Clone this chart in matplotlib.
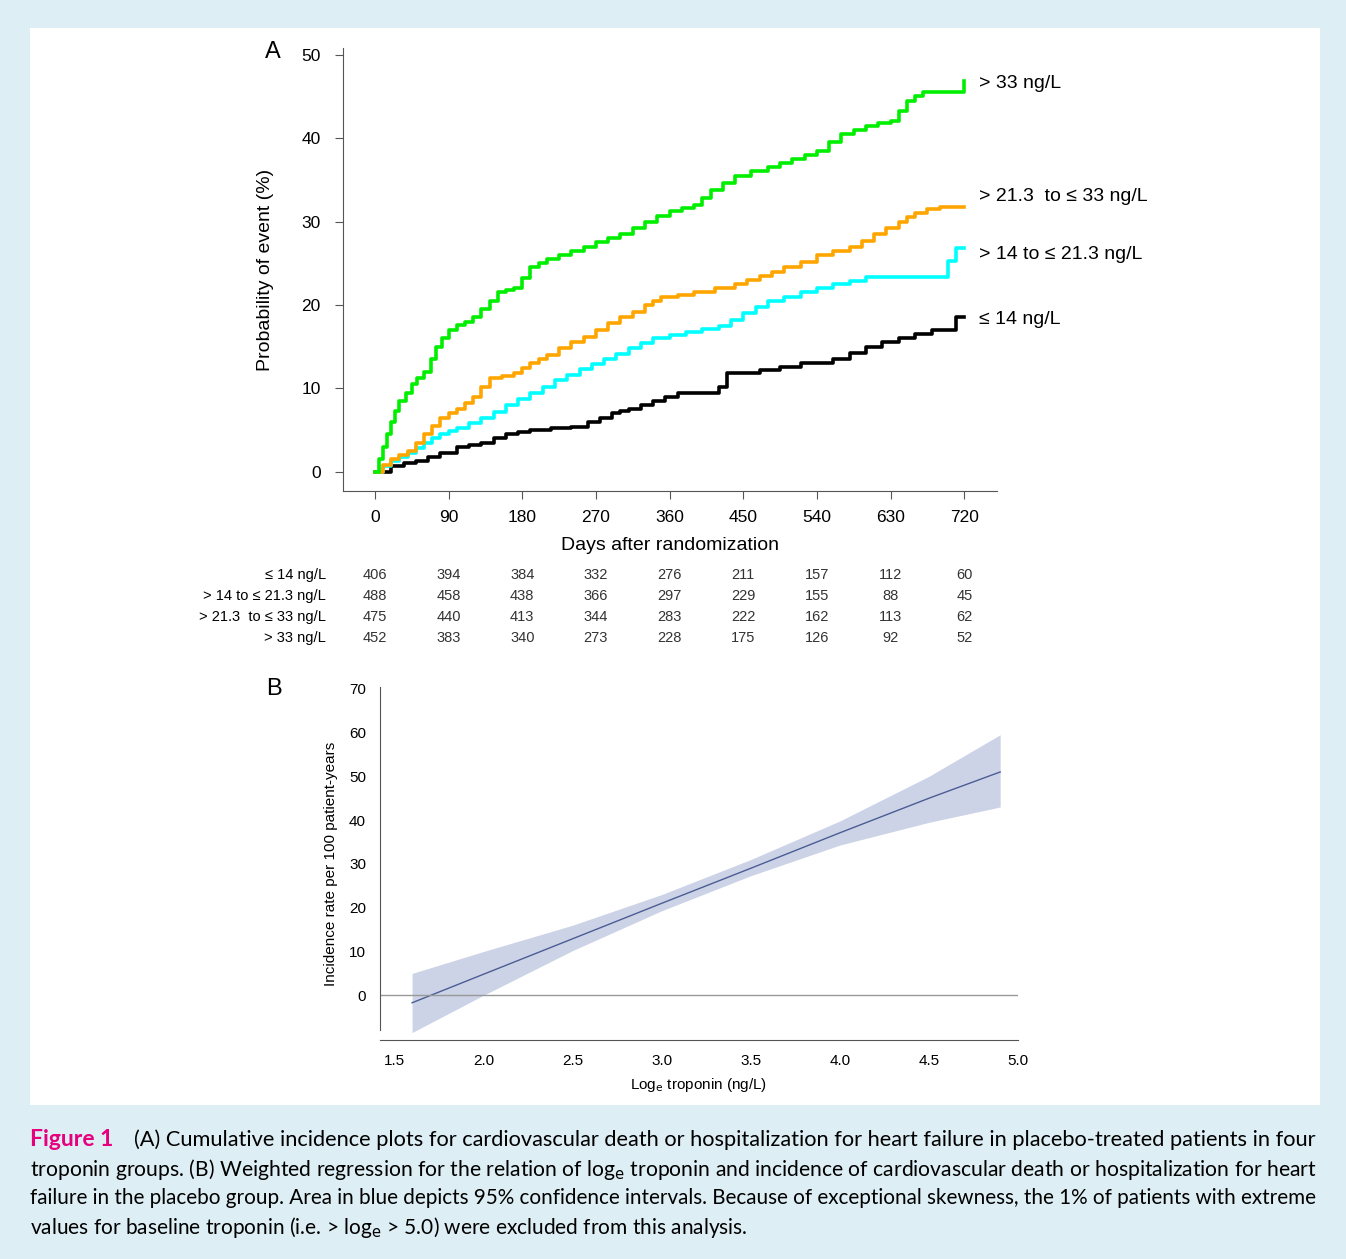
import matplotlib
matplotlib.use("Agg")
import matplotlib.pyplot as plt
from matplotlib.patches import Rectangle
from matplotlib.transforms import blended_transform_factory

plt.rcParams['font.family'] = ['Liberation Sans', 'DejaVu Sans']

# %% data panel A (cumulative incidence)
days_g = [0, 5, 10, 15, 20, 25, 30, 38, 45, 52, 60, 68, 75, 82, 90, 100, 110, 120, 130, 140, 150, 160, 170, 180,
          190, 200, 210, 225, 240, 255, 270, 285, 300, 315, 330, 345, 360, 375, 390, 400, 410, 425, 440, 460, 480,
          495, 510, 525, 540, 555, 570, 585, 600, 615, 630, 640, 650, 660, 670, 690, 710, 720]
prob_g = [0, 1.5, 3, 4.5, 6, 7.3, 8.5, 9.5, 10.5, 11.2, 12, 13.5, 15, 16, 17, 17.6, 18, 18.6, 19.5, 20.5, 21.5,
          21.8, 22, 23.2, 24.5, 25, 25.5, 26, 26.5, 27, 27.5, 28, 28.5, 29.2, 30, 30.7, 31.3, 31.6, 32, 32.8, 33.8,
          34.6, 35.5, 36, 36.5, 37, 37.5, 38, 38.5, 39.5, 40.5, 41, 41.5, 41.8, 42, 43.2, 44.5, 45, 45.5, 45.5,
          45.5, 46.8]
days_o = [0, 10, 20, 30, 40, 50, 60, 70, 80, 90, 100, 110, 120, 130, 140, 155, 170, 180, 190, 200, 210, 225, 240,
          255, 270, 285, 300, 315, 330, 340, 350, 370, 390, 415, 440, 455, 470, 485, 500, 520, 540, 560, 580, 595,
          610, 625, 640, 650, 660, 675, 690, 720]
prob_o = [0, 0.8, 1.5, 2, 2.5, 3.5, 4.5, 5.5, 6.5, 7, 7.5, 8.2, 9, 10.2, 11.3, 11.5, 11.8, 12.4, 13, 13.5, 14,
          14.8, 15.5, 16.2, 17, 17.8, 18.5, 19.2, 20, 20.5, 21, 21.2, 21.5, 22, 22.5, 23, 23.5, 24, 24.5, 25.2, 26,
          26.5, 27, 27.7, 28.5, 29.2, 30, 30.5, 31, 31.5, 31.8, 31.8]
days_c = [0, 10, 20, 30, 40, 50, 60, 70, 80, 90, 100, 115, 130, 145, 160, 175, 190, 205, 220, 235, 250, 265, 280,
          295, 310, 325, 340, 360, 380, 400, 420, 435, 450, 465, 480, 500, 520, 540, 560, 580, 600, 690, 700, 710, 720]
prob_c = [0, 0.7, 1.3, 1.8, 2.3, 2.9, 3.5, 4, 4.5, 4.9, 5.3, 5.9, 6.5, 7.2, 8, 8.7, 9.5, 10.2, 11, 11.6, 12.3,
          12.9, 13.5, 14.1, 14.8, 15.4, 16, 16.4, 16.8, 17.1, 17.5, 18.2, 19, 19.8, 20.5, 21, 21.5, 22, 22.5, 22.9,
          23.3, 23.3, 25.3, 26.8, 26.8]
days_k = [0, 20, 35, 50, 65, 80, 100, 115, 130, 145, 160, 175, 190, 215, 240, 260, 275, 290, 300, 310, 325, 340,
          355, 370, 420, 430, 450, 470, 495, 520, 560, 580, 600, 620, 640, 660, 680, 710, 720]
prob_k = [0, 0.7, 1, 1.3, 1.8, 2.2, 3, 3.2, 3.5, 4, 4.5, 4.8, 5, 5.2, 5.4, 6, 6.5, 7, 7.3, 7.5, 8, 8.5, 9, 9.5,
          10.2, 11.8, 11.9, 12.2, 12.6, 13, 13.5, 14.3, 15, 15.5, 16, 16.5, 17, 18.5, 18.5]

group_labels = ['≤ 14 ng/L', '> 14 to ≤ 21.3 ng/L', '> 21.3  to ≤ 33 ng/L', '> 33 ng/L']
risk_days = [0, 90, 180, 270, 360, 450, 540, 630, 720]
at_risk = [[406, 394, 384, 332, 276, 211, 157, 112, 60],
           [488, 458, 438, 366, 297, 229, 155, 88, 45],
           [475, 440, 413, 344, 283, 222, 162, 113, 62],
           [452, 383, 340, 273, 228, 175, 126, 92, 52]]

# %% data panel B (weighted regression)
log_trop = [1.6, 2.0, 2.5, 3.0, 3.5, 4.0, 4.5, 4.9]
rate_fit = [-1.7, 4.8, 12.9, 21.0, 29.0, 37.1, 45.0, 51.0]
rate_lo = [-8.5, 0, 10.2, 19.3, 27.3, 34.3, 39.5, 43]
rate_hi = [5, 10, 16, 23, 31, 39.8, 50, 59.5]

W, H = 1346, 1259
fig = plt.figure(figsize=(W / 100, H / 100), dpi=100)
fig.patch.set_facecolor('#ddeef4')
fig.patches.append(Rectangle((30 / W, 1 - 1105 / H), 1290 / W, 1077 / H, transform=fig.transFigure,
                             facecolor='white', edgecolor='none', zorder=-10))


def box(l, t, r, b):
    return [l / W, 1 - b / H, (r - l) / W, (b - t) / H]


# %% Panel A
ax = fig.add_axes(box(343, 48, 997, 491))
ax.set_facecolor('none')
for d, p, c in [(days_k, prob_k, 'black'), (days_c, prob_c, '#00ffff'),
                (days_o, prob_o, '#ffa500'), (days_g, prob_g, '#00ee00')]:
    ax.plot(d, p, drawstyle='steps-post', color=c, linewidth=2.6)
ax.set_xlim(-39, 760)
ax.set_ylim(-2.3, 50.8)
ax.set_xticks(risk_days)
ax.set_yticks(range(0, 51, 10))
ax.spines[['top', 'right']].set_visible(False)
for s in ['left', 'bottom']:
    ax.spines[s].set_color('#555555')
ax.tick_params(labelsize=12.5, length=6, pad=8, color='#555555')
ax.tick_params(axis='y', pad=10)
ax.set_xlabel('Days after randomization', fontsize=14, labelpad=8)
ax.set_ylabel('Probability of event (%)', fontsize=14, labelpad=20)
ax.text(-0.12, 0.99, 'A', transform=ax.transAxes, fontsize=17, va='center')
for y, txt in [(46.8, '> 33 ng/L'), (33.2, '> 21.3  to ≤ 33 ng/L'),
               (26.2, '> 14 to ≤ 21.3 ng/L'), (18.5, '≤ 14 ng/L')]:
    ax.text(738, y - 0.2, txt, fontsize=14, va='center', clip_on=False)

tr = blended_transform_factory(ax.transData, fig.transFigure)
for i, (lab, row) in enumerate(zip(group_labels, at_risk)):
    yy = 1 - (575 + i * 21) / H
    ax.text(-60, yy, lab, transform=tr, fontsize=10.5, ha='right', va='center')
    for d, n in zip(risk_days, row):
        ax.text(d, yy, str(n), transform=tr, fontsize=10.5, ha='center', va='center', color='#333333')

# %% Panel B
bx = fig.add_axes(box(380, 687, 1018, 1040))
bx.set_facecolor('none')
bx.fill_between(log_trop, rate_lo, rate_hi, color='#cdd3e6', linewidth=0)
bx.plot(log_trop, rate_fit, color='#4a5d94', linewidth=1)
bx.axhline(0, color='#999999', linewidth=1)
bx.set_xlim(1.42, 5.0)
bx.set_ylim(-10.2, 70.4)
bx.set_xticks([1.5, 2.0, 2.5, 3.0, 3.5, 4.0, 4.5, 5.0])
bx.set_yticks(range(0, 71, 10))
bx.spines[['top', 'right']].set_visible(False)
bx.spines['left'].set_bounds(-8, 70.4)
for s in ['left', 'bottom']:
    bx.spines[s].set_color('#555555')
bx.tick_params(labelsize=11, length=0, pad=10)
bx.set_xlabel('Log$_\\mathrm{e}$ troponin (ng/L)', fontsize=11, labelpad=6)
bx.set_ylabel('Incidence rate per 100 patient-years', fontsize=11, labelpad=8)
bx.text(-0.178, 0.994, 'B', transform=bx.transAxes, fontsize=17, va='center')

# %% caption, each full line scaled to the panel width
cap = ["(A) Cumulative incidence plots for cardiovascular death or hospitalization for heart failure in placebo-treated patients in four",
       "troponin groups. (B) Weighted regression for the relation of log$_\\mathrm{e}$ troponin and incidence of cardiovascular death or hospitalization for heart",
       "failure in the placebo group. Area in blue depicts 95% confidence intervals. Because of exceptional skewness, the 1% of patients with extreme",
       "values for baseline troponin (i.e. > log$_\\mathrm{e}$ > 5.0) were excluded from this analysis."]
fig.text(30 / W, 1 - 1140 / H, 'Figure 1', fontsize=16.5, color='#e6007e', fontweight='bold', va='center',
         family='Lato')
starts = [134, 30, 30, 30]
texts = []
for i, line in enumerate(cap):
    texts.append(fig.text(starts[i] / W, 1 - (1140 + 29 * i) / H, line, fontsize=15, va='center', family='Lato'))
renderer = fig.canvas.get_renderer()
for i, t in enumerate(texts[:3]):
    w = t.get_window_extent(renderer).width
    t.set_fontsize(15 * (1320 - starts[i]) / w)

fig.savefig('out.png', dpi=100, facecolor=fig.get_facecolor())
